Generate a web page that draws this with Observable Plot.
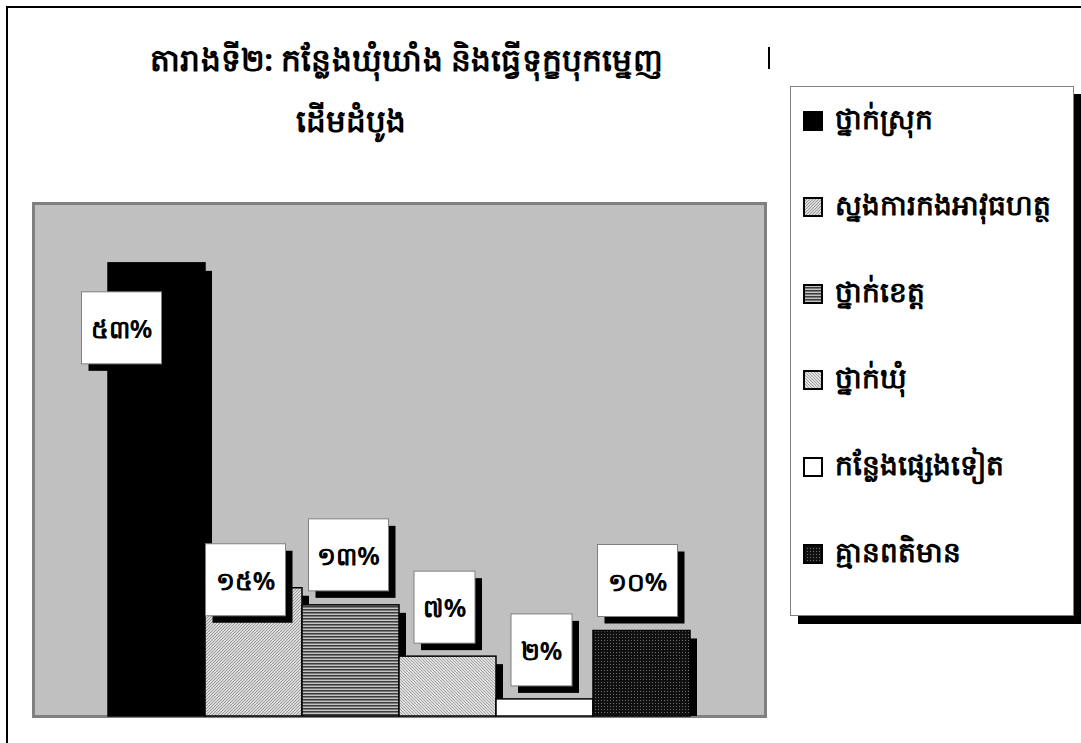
<!DOCTYPE html>
<html>
<head>
<meta charset="utf-8">
<script src="https://cdn.jsdelivr.net/npm/d3@7"></script>
<script src="https://cdn.jsdelivr.net/npm/@observablehq/plot@0.6"></script>
<style>
  html, body { margin: 0; padding: 0; background: #fff; }
  #page { position: relative; width: 1081px; height: 743px; overflow: hidden;
          font-family: "Noto Sans", "DejaVu Sans", sans-serif; color: #000; }
  #frame { position: absolute; left: 6px; top: 6px; width: 2000px; height: 2000px;
           border-left: 2px solid #000; border-top: 2px solid #000; }
  .title { position: absolute; font-size: 31px; font-weight: bold; white-space: nowrap; line-height: 1;
           transform-origin: 0 0; }
  #stray { position: absolute; left: 768px; top: 47px; width: 2px; height: 22px; background: #000; }
  #legend { position: absolute; left: 790px; top: 86px; width: 282px; height: 528px;
            border: 1px solid #808080; background: #fff; box-shadow: 8px 8px 0 #000; }
  .item { position: absolute; left: 12px; height: 34px; display: flex; align-items: center;
          font-size: 28px; font-weight: bold; white-space: nowrap; }
  .item svg { margin-right: 12px; flex: none; }
  #chart { position: absolute; left: 0; top: 0; }
</style>
</head>
<body>
<div id="page">
  <div id="frame"></div>
  <svg width="0" height="0" style="position:absolute" shape-rendering="crispEdges">
    <defs>
      <pattern id="pat-black" width="4" height="4" patternUnits="userSpaceOnUse">
        <rect width="4" height="4" fill="#000"/>
      </pattern>
      <pattern id="pat-diag" width="3" height="3" patternUnits="userSpaceOnUse">
        <rect width="3" height="3" fill="#dcdcdc"/>
        <rect x="0" y="2" width="1" height="1" fill="#969696"/>
        <rect x="1" y="1" width="1" height="1" fill="#969696"/>
        <rect x="2" y="0" width="1" height="1" fill="#969696"/>
      </pattern>
      <pattern id="pat-horiz" width="3" height="3" patternUnits="userSpaceOnUse">
        <rect width="3" height="3" fill="#c4c4c4"/>
        <rect width="3" height="1" fill="#3c3c3c"/>
        <rect y="1" width="3" height="1" fill="#7a7a7a"/>
      </pattern>
      <pattern id="pat-diag2" width="3" height="3" patternUnits="userSpaceOnUse">
        <rect width="3" height="3" fill="#e0e0e0"/>
        <rect x="0" y="0" width="1" height="1" fill="#a0a0a0"/>
        <rect x="1" y="1" width="1" height="1" fill="#a0a0a0"/>
        <rect x="2" y="2" width="1" height="1" fill="#a0a0a0"/>
      </pattern>
      <pattern id="pat-white" width="4" height="4" patternUnits="userSpaceOnUse">
        <rect width="4" height="4" fill="#fff"/>
      </pattern>
      <pattern id="pat-dots" width="3" height="3" patternUnits="userSpaceOnUse">
        <rect width="3" height="3" fill="#101010"/>
        <rect x="1" y="1" width="1" height="1" fill="#707070"/>
      </pattern>
    </defs>
  </svg>
</div>
<script>
// ---- data ----
const titleLine1 = "តារាងទី២: កន្លែងឃុំឃាំង និងធ្វើទុក្ខបុកម្នេញ";
const titleLine2 = "ដើមដំបូង";
const categories = ["ថ្នាក់ស្រុក", "ស្នងការកងអាវុធហត្ថ", "ថ្នាក់ខេត្ត", "ថ្នាក់ឃុំ", "កន្លែងផ្សេងទៀត", "គ្មានពតិមាន"];
const values = [53, 15, 13, 7, 2, 10];
const valueLabels = ["៥៣%", "១៥%", "១៣%", "៧%", "២%", "១០%"];
const patterns = ["pat-black", "pat-diag", "pat-horiz", "pat-diag2", "pat-white", "pat-dots"];

const rows = categories.map((c, i) => ({cat: c, value: values[i], label: valueLabels[i], fill: `url(#${patterns[i]})`}));

const page = document.getElementById("page");

// ---- chart ----
const chart = Plot.plot({
  width: 1081,
  height: 743,
  marginLeft: 33,
  marginRight: 316,
  marginTop: 203,
  marginBottom: 27,
  style: {background: "transparent", overflow: "visible"},
  x: {domain: categories, paddingInner: 0, paddingOuter: 0.75, axis: null},
  y: {domain: [0, 60], axis: null},
  color: {type: "identity"},
  marks: [
    Plot.frame({fill: "#c0c0c0", stroke: "#808080", strokeWidth: 3}),
    Plot.barY(rows, {x: "cat", y: "value", fill: "#000", dx: 7, insetTop: 8}),
    Plot.barY(rows, {x: "cat", y: "value", fill: "fill", stroke: "#000", strokeWidth: 1.5})
  ]
});
chart.id = "chart";
page.appendChild(chart);

// ---- value label boxes (placed from the chart's own scales) ----
const xs = chart.scale("x"), ys = chart.scale("y");
const bw = xs.bandwidth;
const nudge = [[-35, 65], [-8, -8], [-2, -50], [-3, -49], [-3, -49], [-4, -50]];
const svg = d3.select(chart);
const g = svg.append("g");
rows.forEach((d, i) => {
  const cx = xs.apply(d.cat) + bw / 2 + nudge[i][0];
  const cy = ys.apply(d.value) + nudge[i][1];
  const w = d.value < 10 ? 61 : 80, h = 72;
  g.append("rect").attr("x", cx - w / 2 + 7).attr("y", cy - h / 2 + 7).attr("width", w).attr("height", h).attr("fill", "#000");
  g.append("rect").attr("x", cx - w / 2).attr("y", cy - h / 2).attr("width", w).attr("height", h)
    .attr("fill", "#fff").attr("stroke", "#808080").attr("stroke-width", 1);
  g.append("text").attr("x", cx).attr("y", cy).attr("text-anchor", "middle").attr("dominant-baseline", "central")
    .attr("font-size", 25).attr("font-weight", "bold").attr("fill", "#000").text(d.label);
});

// ---- title ----
const t1 = document.createElement("div");
t1.className = "title"; t1.style.left = "150px"; t1.style.top = "44px"; t1.textContent = titleLine1;
page.appendChild(t1);
const w1 = t1.getBoundingClientRect().width;
t1.style.transform = `scaleX(${513 / w1})`;
const t2 = document.createElement("div");
t2.className = "title"; t2.style.left = "296px"; t2.style.top = "105px"; t2.textContent = titleLine2;
page.appendChild(t2);
const stray = document.createElement("div"); stray.id = "stray"; page.appendChild(stray);

// ---- legend ----
const legend = document.createElement("div");
legend.id = "legend";
page.appendChild(legend);
categories.forEach((c, i) => {
  const item = document.createElement("div");
  item.className = "item";
  item.style.top = (16.5 + i * 86.6) + "px";
  item.innerHTML = `<svg width="20" height="20"><rect x="1" y="1" width="18" height="18" fill="url(#${patterns[i]})" stroke="#000" stroke-width="2"/></svg><span>${c}</span>`;
  legend.appendChild(item);
});
</script>
</body>
</html>
